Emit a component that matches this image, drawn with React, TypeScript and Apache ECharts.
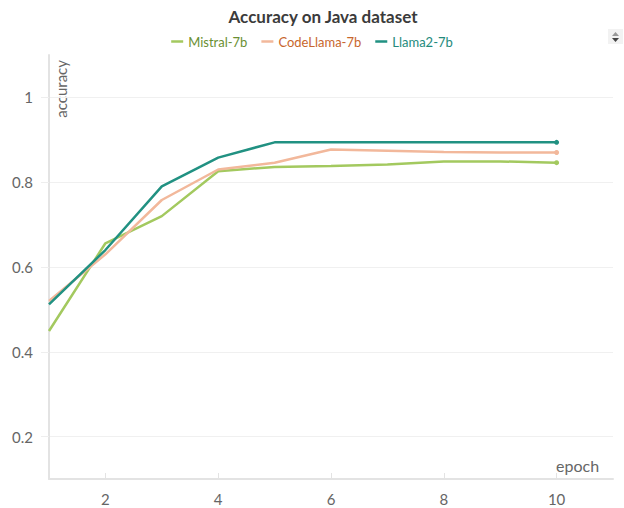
import React, { useEffect, useRef } from "react";
import * as echarts from "echarts";

const epochs = [1, 2, 3, 4, 5, 6, 7, 8, 9, 10];
const mistral = [0.449, 0.656, 0.72, 0.826, 0.836, 0.838, 0.842, 0.849, 0.849, 0.846];
const codeLlama = [0.52, 0.63, 0.758, 0.83, 0.846, 0.877, 0.874, 0.871, 0.87, 0.87];
const llama2 = [0.512, 0.64, 0.79, 0.858, 0.894, 0.894, 0.894, 0.894, 0.894, 0.894];
const xTicks = [2, 4, 6, 8, 10];
const yTicks = [0.2, 0.4, 0.6, 0.8, 1];

const FONT = "Lato";

export default function App() {
  const ref = useRef<HTMLDivElement>(null);
  useEffect(() => {
    if (!ref.current) return;
    const chart = echarts.init(ref.current, null, { renderer: "svg" });
    const mk = (name: string, data: number[], color: string) => ({
      name,
      type: "line",
      data: epochs.map((e, i) => [e, data[i]]),
      lineStyle: { color, width: 2.5 },
      itemStyle: { color },
      showSymbol: true,
      symbol: (_v: any, p: any) => (p.dataIndex === data.length - 1 ? "circle" : "none"),
      symbolSize: 5,
      emphasis: { disabled: true },
    });
    chart.setOption({
      animation: false,
      backgroundColor: "#ffffff",
      title: {
        text: "Accuracy on Java dataset",
        left: 318,
        textAlign: "center",
        top: 3,
        textStyle: { fontFamily: FONT, fontSize: 17, fontWeight: "bold", color: "#3b3b3b" },
      },
      legend: {
        top: 30,
        left: "center",
        icon: "rect",
        itemWidth: 12,
        itemHeight: 2.5,
        itemGap: 14,
        data: [
          { name: "Mistral-7b", textStyle: { color: "#6a8f32" } },
          { name: "CodeLlama-7b", textStyle: { color: "#c8662c" } },
          { name: "Llama2-7b", textStyle: { color: "#238a7c" } },
        ],
        textStyle: { fontFamily: FONT, fontSize: 13 },
      },
      grid: { left: 49, right: 11, top: 55, bottom: 29, containLabel: false },
      xAxis: {
        type: "value",
        min: 1,
        max: 11,
        axisLine: { lineStyle: { color: "#e3e3e3", width: 2 } },
        axisTick: { show: true, inside: true, length: 6, customValues: xTicks, lineStyle: { color: "#e3e3e3" } },
        axisLabel: { customValues: xTicks, color: "#666", fontFamily: FONT, fontSize: 15, margin: 12 },
        splitLine: { show: false },
      },
      yAxis: {
        type: "value",
        min: 0.1,
        max: 1.1,
        axisLine: { show: true, lineStyle: { color: "#e3e3e3", width: 2 } },
        axisTick: { show: true, length: 8, customValues: yTicks, lineStyle: { color: "#eeeeee" } },
        axisLabel: { customValues: yTicks, color: "#666", fontFamily: FONT, fontSize: 15, margin: 16 },
        splitLine: { show: true, lineStyle: { color: "#f0f0f0", width: 1 } },
      },
      graphic: [
        {
          type: "text",
          left: 53,
          top: 60,
          rotation: Math.PI / 2,
          style: { text: "accuracy", fill: "#666", font: `15px ${FONT}` },
        },
        {
          type: "text",
          x: 556,
          y: 457,
          style: { text: "epoch", fill: "#666", font: `16px ${FONT}` },
        },
        { type: "rect", shape: { x: 608, y: 29, width: 15, height: 15 }, style: { fill: "#f2f2f2" } },
        { type: "polygon", shape: { points: [[612, 36], [619, 36], [615.5, 32]] }, style: { fill: "#999" } },
        { type: "polygon", shape: { points: [[612, 38], [619, 38], [615.5, 42]] }, style: { fill: "#444" } },
      ],
      series: [
        mk("Mistral-7b", mistral, "#a3c95f"),
        mk("CodeLlama-7b", codeLlama, "#f2b89b"),
        mk("Llama2-7b", llama2, "#219182"),
      ],
    });
    return () => chart.dispose();
  }, []);
  return <div ref={ref} style={{ width: 624, height: 508, position: "absolute", left: 0, top: 0 }} />;
}
